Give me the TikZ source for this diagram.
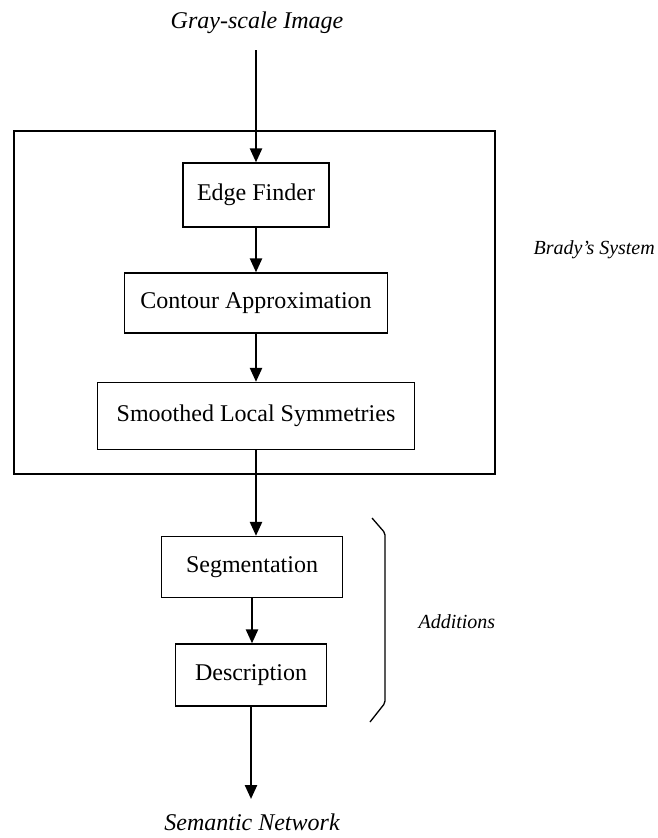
\documentclass[tikz,border=0pt]{standalone}
\usepackage{fontspec}
\setmainfont{Liberation Serif}
\usetikzlibrary{arrows.meta}

\begin{document}
\begin{tikzpicture}[x=1pt, y=-1pt,
    stage/.style={draw=black, line width=1.3pt, minimum height=62pt, inner sep=0pt,
        font=\fontsize{24}{28}\selectfont},
    flow/.style={draw=black, line width=2.4pt, -{Triangle[length=14pt, width=12pt]}},
    tag/.style={font=\fontsize{24}{28}\selectfont\itshape},
    sidetag/.style={anchor=west, font=\fontsize{20}{24}\selectfont\itshape}]
    \useasboundingbox (0,0) rectangle (658,838);
    % 入力と出力
    \node[tag] (gray) at (257,23) {Gray-scale Image};
    \node[tag] (semnet) at (252,822) {Semantic Network};
    \coordinate (in) at (256,50);
    \coordinate (out) at (251,799);
    % Brady のシステム（大きな枠）
    \draw[line width=1.6pt] (14,131) rectangle (495,474);
    \node[sidetag] (brady) at (530,250) {Brady's System};
    \node[stage, minimum width=146pt, minimum height=64pt] (efinder) at (256,195) {Edge Finder};
    \node[stage, minimum width=263pt, minimum height=60pt] (contour) at (256,303) {Contour Approximation};
    \node[stage, minimum width=317pt, minimum height=67pt] (smoothed) at (256,416) {Smoothed Local Symmetries};
    % 追加部分
    \node[stage, minimum width=181pt, minimum height=61pt] (seg) at (252,567) {Segmentation};
    \node[stage, minimum width=151pt, minimum height=62pt] (desc) at (251,675) {Description};
    \draw[line width=1.3pt, rounded corners=2pt] (372,518) -- (385,533) -- (385,703) -- (370,722);
    \node[sidetag] (additions) at (415,622) {Additions};
    % 流れの矢印
    \draw[flow] (in) -- (in |- efinder.north);
    \foreach \a/\b in {efinder/contour, contour/smoothed, smoothed/seg, seg/desc} {
        \draw[flow] (\a.south) -- (\a.south |- \b.north);
    }
    \draw[flow] (desc.south) -- (desc.south |- out);

\end{tikzpicture}
\end{document}
